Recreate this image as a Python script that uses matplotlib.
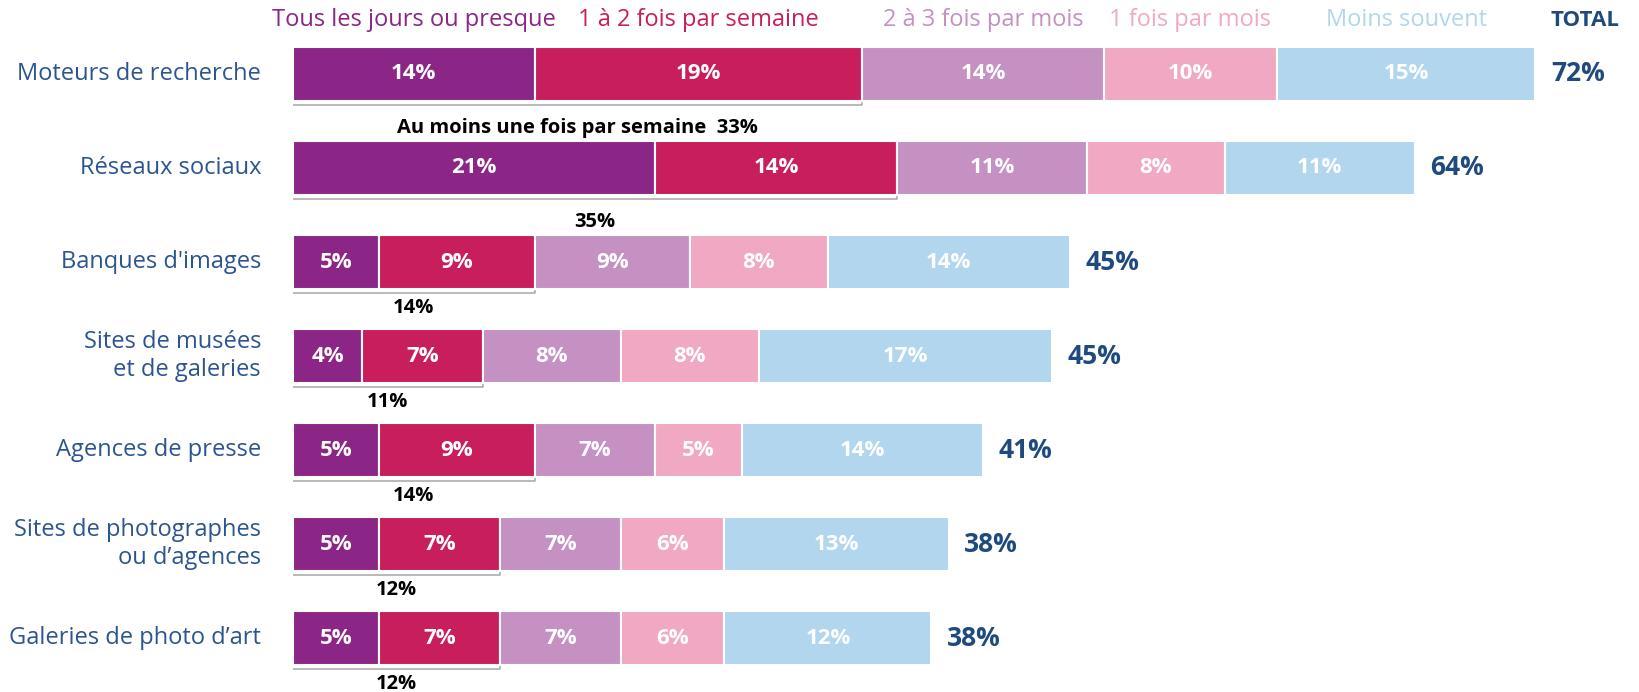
import numpy as np
import matplotlib.pyplot as plt

plt.rcParams['font.family'] = ['Open Sans', 'DejaVu Sans']

# Sources and frequency breakdown (% of respondents)
categories = ['Moteurs de recherche', 'Réseaux sociaux', "Banques d'images",
              'Sites de musées\net de galeries', 'Agences de presse',
              'Sites de photographes\nou d’agences', 'Galeries de photo d’art']
frequencies = ['Tous les jours ou presque', '1 à 2 fois par semaine',
               '2 à 3 fois par mois', '1 fois par mois', 'Moins souvent']
daily = [14, 21, 5, 4, 5, 5, 5]
weekly = [19, 14, 9, 7, 9, 7, 7]
monthly_2_3 = [14, 11, 9, 8, 7, 7, 7]
monthly_1 = [10, 8, 8, 8, 5, 6, 6]
less_often = [15, 11, 14, 17, 14, 13, 12]
totals = [72, 64, 45, 45, 41, 38, 38]

colors = ['#8b2586', '#c91e5e', '#c590c2', '#f1a9c3', '#b1d6ee']
label_blue = '#2b5590'
total_blue = '#1f4a7e'
bracket_grey = '#a6a6a6'

series = np.array([daily, weekly, monthly_2_3, monthly_1, less_often])
weekly_sum = series[0] + series[1]

fig = plt.figure(figsize=(16.39, 6.92), dpi=100)
ax = fig.add_axes([293 / 1639, 0, 1346 / 1639, 1])
ax.set_xlim(0, 78)
ax.set_ylim(6.574, -0.787)
ax.axis('off')

y = np.arange(len(categories))
bar_h = 0.57

left = np.zeros(len(categories))
for k in range(len(frequencies)):
    ax.barh(y, series[k], left=left, height=bar_h, color=colors[k],
            edgecolor='white', linewidth=1.5, zorder=3)
    for i in range(len(categories)):
        ax.text(left[i] + series[k][i] / 2, y[i], f'{series[k][i]}%',
                ha='center', va='center', color='white', fontsize=16,
                fontweight='bold', zorder=4)
    # column headers above the first bar
    ax.text(left[0] + series[k][0] / 2, -0.574, frequencies[k], ha='center',
            va='center', color=colors[k], fontsize=17)
    left += series[k]

# totals at the end of each bar
gap = 0.9
for i in range(len(categories)):
    ax.text(left[i] + gap, y[i], f'{totals[i]}%', ha='left', va='center',
            color=total_blue, fontsize=19, fontweight='bold')
ax.text(left[0] + gap, -0.574, 'TOTAL', ha='left', va='center',
        color=total_blue, fontsize=16, fontweight='bold')

# category names
for i, name in enumerate(categories):
    ax.text(-1.85, y[i], name, ha='right', va='center', color=label_blue,
            fontsize=17, linespacing=1.2)

# bracket under the first two segments with the weekly total
for i in range(len(categories)):
    yb = y[i] + 0.33
    x0, x1 = -0.25, weekly_sum[i]
    ax.plot([x0, x0, x1, x1], [y[i] + 0.2, yb, yb, y[i] + 0.2],
            color=bracket_grey, linewidth=1.1, zorder=1)
    txt = f'{weekly_sum[i]}%'
    dy = 0.49
    if i == 0:
        txt = f'Au moins une fois par semaine  {weekly_sum[i]}%'
    if i < 2:
        dy = 0.575
    ax.text(weekly_sum[i] / 2, y[i] + dy, txt, ha='center', va='center',
            color='black', fontsize=14.5, fontweight='bold')

fig.savefig('out.png', dpi=100)
